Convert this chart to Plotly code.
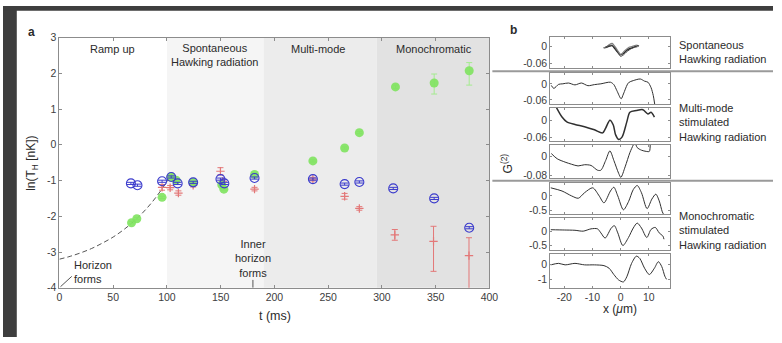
import plotly.graph_objects as go

W, H = 782, 343

# ---------------- Panel a data ----------------
blue_t = [66.5, 72.6, 95.5, 104, 110, 124.4, 149.8, 153.4, 181.5, 235.8, 265.3, 279, 310.5, 348.6, 381.2]
blue_y = [-1.08, -1.13, -1.02, -0.90, -1.08, -1.05, -0.96, -1.08, -0.93, -0.96, -1.10, -1.04, -1.22, -1.50, -2.32]
blue_err = [0.03] * len(blue_t)

green_t = [67.1, 72, 95.5, 104, 108.6, 124.4, 151, 153, 181.5, 235.8, 265.3, 279, 312.6, 348.6, 381.2]
green_y = [-2.18, -2.07, -1.47, -0.90, -0.99, -1.05, -1.12, -1.24, -0.83, -0.45, -0.09, 0.34, 1.62, 1.73, 2.07]
green_err_plus = [0.03, 0.03, 0.03, 0.03, 0.03, 0.03, 0.03, 0.03, 0.05, 0.03, 0.03, 0.03, 0.05, 0.25, 0.23]
green_err_minus = [0.03, 0.03, 0.03, 0.03, 0.03, 0.03, 0.03, 0.03, 0.05, 0.03, 0.03, 0.03, 0.05, 0.31, 0.40]

red_t = [95.5, 103, 110.7, 124.4, 149.8, 152, 181.5, 235.8, 265.3, 279, 312, 348, 381]
red_y = [-1.19, -1.20, -1.35, -1.13, -0.74, -1.02, -1.24, -0.96, -1.44, -1.78, -2.52, -2.70, -3.10]
red_err_plus = [0.08, 0.06, 0.06, 0.05, 0.10, 0.06, 0.05, 0.05, 0.08, 0.05, 0.15, 0.42, 0.50]
red_err_minus = [0.08, 0.06, 0.06, 0.05, 0.10, 0.06, 0.05, 0.05, 0.08, 0.05, 0.15, 0.84, 1.20]

fit_t = [0, 10, 20, 30, 40, 50, 60, 70, 80, 90, 100, 105]
fit_y = [-3.20, -3.12, -3.02, -2.90, -2.75, -2.58, -2.37, -2.12, -1.82, -1.46, -1.03, -0.80]

horizon_line_t = [1, 11.5]
horizon_line_y = [-3.97, -3.68]
inner_line_t = [180, 180]
inner_line_y = [-4, -3.78]

region_edges = [100, 190, 295, 400]
region_colors = ["#f5f5f5", "#ececec", "#e2e2e2"]

a_xticks = [0, 50, 100, 150, 200, 250, 300, 350, 400]
a_yticks = [-4, -3, -2, -1, 0, 1, 2, 3]

# ---------------- Panel b data ----------------
r1a_x = [-6, -5, -4, -3, -2, -1, 0, 1, 2, 3, 4, 5, 6, 6.5]
r1a_y = [-0.003, -0.002, 0.002, 0.004, -0.008, -0.020, -0.030, -0.025, -0.015, -0.008, -0.004, 0.000, 0.004, 0.002]
r1b_x = [-6, -5, -4, -3, -2, -1, 0, 1, 2, 3, 4, 5, 6]
r1b_y = [-0.005, 0.000, 0.008, 0.012, 0.000, -0.015, -0.028, -0.020, -0.010, -0.002, 0.000, 0.004, 0.006]
r1c_x = [-5.5, -4, -3, -2, -1, 0, 1, 2, 3, 4, 5, 6]
r1c_y = [-0.002, 0.004, 0.006, -0.005, -0.022, -0.035, -0.030, -0.020, -0.012, -0.006, -0.002, 0.000]

r2_x = [-24.6, -23.7, -22, -20.5, -18.5, -16.2, -13.9, -11.6, -9.3, -7, -3.6, -2.4, -1.3, 0.2, 1, 2.8, 4.5, 7, 8.5, 9.7, 10.8, 11.6, 12.1]
r2_y = [-0.006, -0.017, -0.002, 0.000, 0.003, -0.004, 0.003, -0.007, -0.003, 0.000, 0.006, -0.003, -0.026, -0.056, -0.038, 0.004, 0.012, 0.018, 0.010, 0.006, -0.014, -0.044, -0.076]

r3_x = [-22.8, -20.8, -19.1, -16.2, -12.8, -9.3, -6.4, -5.3, -3.8, -2.6, -1.8, -0.7, 0.5, 2.2, 3.3, 5.6, 7.9, 9.7, 10.8, 12]
r3_y = [0.045, 0.011, -0.006, -0.015, -0.023, -0.034, -0.045, -0.028, 0.000, -0.017, -0.051, -0.068, -0.060, -0.006, 0.028, 0.034, 0.037, 0.022, 0.028, 0.011]

r4_x = [-24.6, -22.5, -19.7, -17.4, -15.1, -12.8, -10.5, -8.2, -7, -5.3, -3.8, -2.4, -0.7, 0.1, 1.6, 3.3, 4.5, 5.0, 5.9, 7.4, 9.1, 10.2, 10.5]
r4_y = [0.013, -0.009, -0.023, -0.032, -0.039, -0.034, -0.037, -0.057, -0.057, -0.016, 0.024, -0.016, -0.070, -0.087, -0.043, 0.017, 0.049, 0.06, 0.038, 0.027, 0.022, 0.022, 0.06]

r5_x = [-24.8, -20.8, -17.4, -15, -12.8, -9.9, -7.6, -5.9, -3.6, -2.4, -1, 1, 2.8, 4.5, 5.9, 7.4, 9.4, 11.1, 12.5, 13.7, 14.8, 15.4]
r5_y = [0.28, 0.17, 0.00, -0.08, 0.11, 0.28, 0.00, -0.24, 0.17, 0.30, 0.00, -0.48, -0.20, 0.22, 0.36, 0.11, -0.44, -0.11, 0.06, -0.17, -0.55, -0.66]

r6_x = [-24.8, -20, -16.2, -13.3, -10.5, -8.2, -7, -5.5, -3.3, -2.2, -1, 0.8, 2.8, 4.5, 5.9, 7.4, 9.3, 10.8, 12.3, 13.7, 15, 15.4]
r6_y = [0.05, 0.04, 0.03, 0.00, 0.08, 0.08, -0.06, -0.24, 0.11, 0.19, -0.06, -0.50, -0.22, 0.11, 0.28, 0.11, -0.22, 0.06, 0.13, -0.06, -0.17, -0.28]

r7_x = [-24.8, -22, -19.7, -16.2, -12.8, -9.3, -5.9, -4.1, -2.4, -0.7, 1, 2.2, 3.9, 5.6, 6.8, 8.5, 10.2, 12, 13.4, 14.6, 15.7, 16.3]
r7_y = [-0.04, 0.06, -0.04, 0.06, -0.04, -0.04, -0.09, -0.26, -0.68, -1.04, -1.17, -0.83, 0.06, 0.54, 0.39, -0.26, -0.68, -0.26, 0.17, -0.15, -0.79, -1.00]

b_rows = [
    dict(curves=[(r1a_x, r1a_y), (r1b_x, r1b_y), (r1c_x, r1c_y)], rng=[-0.077, 0.035], ticks=[-0.06, 0], labels=["-0.06", "0"]),
    dict(curves=[(r2_x, r2_y)], rng=[-0.076, 0.042], ticks=[-0.06, 0], labels=["-0.06", "0"]),
    dict(curves=[(r3_x, r3_y)], rng=[-0.075, 0.043], ticks=[-0.06, 0], labels=["-0.06", "0"]),
    dict(curves=[(r4_x, r4_y)], rng=[-0.09, 0.049], ticks=[-0.08, 0], labels=["-0.08", "0"]),
    dict(curves=[(r5_x, r5_y)], rng=[-0.64, 0.45], ticks=[-0.5, 0], labels=["-0.5", "0"]),
    dict(curves=[(r6_x, r6_y)], rng=[-0.67, 0.47], ticks=[-0.5, 0], labels=["-0.5", "0"]),
    dict(curves=[(r7_x, r7_y)], rng=[-1.56, 0.70], ticks=[-1, 0], labels=["-1", "0"]),
]
b_xticks = [-20, -10, 0, 10]
b_xrange = [-25, 17.5]

# ---------------- layout geometry (pixels) ----------------
def px(x):
    return x / W

def py(y):
    return 1 - y / H

a_dom_x = [px(57.3), px(494)]
a_dom_y = [py(292), py(32.7)]
b_dom_x = [px(555.7), px(677.3)]
b_rows_px = [(32.3, 64), (69, 101.7), (105.7, 140.3), (144, 178.3), (183.3, 216), (219.3, 253.3), (256.7, 292)]

FONT = "Liberation Sans, Arial, sans-serif"
TXT = "#2b2b2b"
AX = "#8c8c8c"
TICKF = dict(family=FONT, size=10.5, color="#404040")
RED = "#e37878"
GREEN = "#7fe35f"
GREEN_ERR = "#a5eb90"
BLUE = "#3c3ccc"

fig = go.Figure()

# fit curve and pointer lines
fig.add_trace(go.Scatter(x=fit_t, y=fit_y, mode="lines", line=dict(color="#555555", width=1, dash="5px,3px", shape="spline"),
                         xaxis="x", yaxis="y", showlegend=False, hoverinfo="skip"))
fig.add_trace(go.Scatter(x=horizon_line_t, y=horizon_line_y, mode="lines", line=dict(color="#555555", width=1),
                         xaxis="x", yaxis="y", showlegend=False))
fig.add_trace(go.Scatter(x=inner_line_t, y=inner_line_y, mode="lines", line=dict(color="#555555", width=1),
                         xaxis="x", yaxis="y", showlegend=False))

# red
fig.add_trace(go.Scatter(x=red_t, y=red_y, mode="markers",
                         marker=dict(symbol="cross-thin-open", size=6, color=RED, line=dict(color=RED, width=1.2)),
                         error_y=dict(type="data", symmetric=False, array=red_err_plus, arrayminus=red_err_minus,
                                      color=RED, thickness=1, width=3),
                         xaxis="x", yaxis="y", showlegend=False))
# green
fig.add_trace(go.Scatter(x=green_t, y=green_y, mode="markers",
                         marker=dict(symbol="circle", size=9, color=GREEN, opacity=0.9, line=dict(width=0)),
                         error_y=dict(type="data", symmetric=False, array=green_err_plus, arrayminus=green_err_minus,
                                      color=GREEN_ERR, thickness=1, width=3),
                         xaxis="x", yaxis="y", showlegend=False))
# blue
fig.add_trace(go.Scatter(x=blue_t, y=blue_y, mode="markers",
                         marker=dict(symbol="circle-open", size=9, color=BLUE, line=dict(width=1.1, color=BLUE)),
                         error_y=dict(type="data", array=blue_err, color=BLUE, thickness=1, width=4),
                         xaxis="x", yaxis="y", showlegend=False))

# panel b curves
row1_styles = [dict(color="#222222", width=1.3), dict(color="#808080", width=1.3), dict(color="#444444", width=1)]
for i, row in enumerate(b_rows):
    ax = i + 2
    for j, (cx, cy) in enumerate(row["curves"]):
        if i == 0:
            st = row1_styles[j]
        elif i == 2:
            st = dict(color="#303030", width=1.5)
        else:
            st = dict(color="#303030", width=1)
        fig.add_trace(go.Scatter(x=cx, y=cy, mode="lines", line=dict(shape="spline", smoothing=0.8, **st),
                                 xaxis=f"x{ax}", yaxis=f"y{ax}", showlegend=False, cliponaxis=True))

layout = dict(
    width=W, height=H, margin=dict(l=0, r=0, t=0, b=0),
    paper_bgcolor="white", plot_bgcolor="rgba(0,0,0,0)",
    font=dict(family=FONT, color=TXT),
    showlegend=False,
)

common_axis = dict(showline=True, linecolor=AX, linewidth=1, mirror="ticks", ticks="inside", ticklen=3,
                   tickcolor=AX, showgrid=False, zeroline=False, tickfont=TICKF)

layout["xaxis"] = dict(common_axis, domain=a_dom_x, range=[0, 400], tickvals=a_xticks,
                       ticktext=[str(v) for v in a_xticks], anchor="y")
layout["yaxis"] = dict(common_axis, domain=a_dom_y, range=[-4, 3], tickvals=a_yticks,
                       ticktext=[str(v) for v in a_yticks], anchor="x")

for i, row in enumerate(b_rows):
    ax = i + 2
    top, bot = b_rows_px[i]
    layout[f"xaxis{ax}"] = dict(common_axis, domain=b_dom_x, range=b_xrange, tickvals=b_xticks,
                                ticktext=[str(v) for v in b_xticks], showticklabels=(i == 6), anchor=f"y{ax}", ticklen=2)
    layout[f"yaxis{ax}"] = dict(common_axis, domain=[py(bot), py(top)], range=row["rng"], tickvals=row["ticks"],
                                ticktext=row["labels"], anchor=f"x{ax}", ticklen=2)

shapes = []
# dark frame
shapes.append(dict(type="rect", xref="paper", yref="paper", x0=0, x1=px(14), y0=0, y1=1,
                   fillcolor="#3e3e3e", line=dict(width=0), layer="below"))
shapes.append(dict(type="rect", xref="paper", yref="paper", x0=0, x1=1, y0=py(5), y1=1,
                   fillcolor="#3e3e3e", line=dict(width=0), layer="below"))
# region shading
for k in range(3):
    shapes.append(dict(type="rect", xref="x", yref="y domain", x0=region_edges[k], x1=region_edges[k + 1], y0=0, y1=1,
                       fillcolor=region_colors[k], line=dict(width=0), layer="below"))
# separators in panel b
for yy in [67.7, 181]:
    shapes.append(dict(type="line", xref="paper", yref="paper", x0=px(497), x1=1, y0=py(yy), y1=py(yy),
                       line=dict(color="#9a9a9a", width=2)))
layout["shapes"] = shapes

ann = []
def A(text, x, y, xref="x", yref="y", size=11, xanchor="center", yanchor="middle", align="center", **kw):
    ann.append(dict(text=text, x=x, y=y, xref=xref, yref=yref, showarrow=False, xanchor=xanchor, yanchor=yanchor,
                    align=align, font=dict(family=FONT, size=size, color=TXT), **kw))

A("Ramp up", 49, 2.68)
A("Spontaneous<br>Hawking radiation", 144, 2.5)
A("Multi-mode", 241, 2.68)
A("Monochromatic", 348.6, 2.68)
A("Horizon<br>forms", 11.5, -3.55, xanchor="left", align="left")
A("Inner<br>horizon<br>forms", 180, -3.18)
A("<b>a</b>", px(29), py(27), xref="paper", yref="paper", size=12)
A("<b>b</b>", px(518), py(25), xref="paper", yref="paper", size=12)
A("ln(T<sub>H</sub> [nK])", px(30), py(163), xref="paper", yref="paper", size=12, textangle=-90)
A("t (ms)", px(276), py(321), xref="paper", yref="paper", size=12.5)
A("G<sup>(2)</sup>", px(512), py(163), xref="paper", yref="paper", size=12, textangle=-90)
A("x (<i>μ</i>m)", px(627), py(314), xref="paper", yref="paper", size=12)
A("Spontaneous<br>Hawking radiation", px(685), py(47.5), xref="paper", yref="paper", size=11, xanchor="left", align="left")
A("Multi-mode<br>stimulated<br>Hawking radiation", px(685), py(120.5), xref="paper", yref="paper", size=11, xanchor="left", align="left")
A("Monochromatic<br>stimulated<br>Hawking radiation", px(685), py(233), xref="paper", yref="paper", size=11, xanchor="left", align="left")
layout["annotations"] = ann

fig.update_layout(**layout)
fig.write_html("out.html", config={"displayModeBar": False},
               post_script="document.body.style.margin='0';document.body.style.overflow='hidden';")
